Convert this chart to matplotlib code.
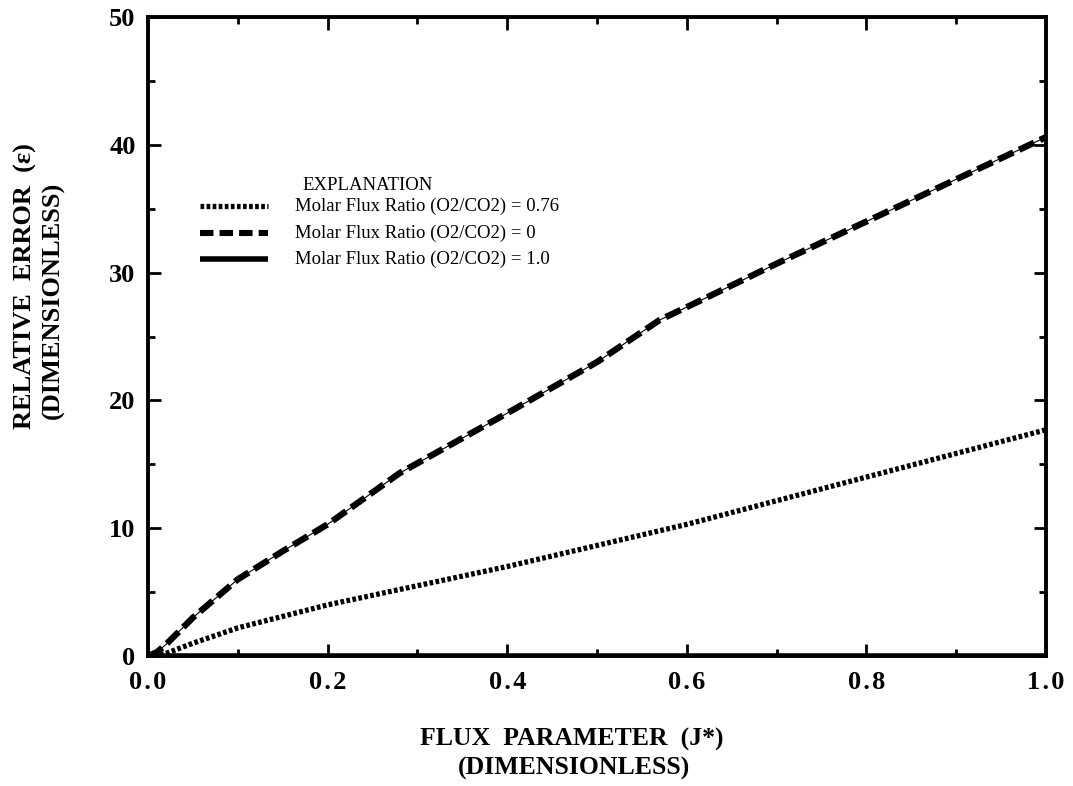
import matplotlib
matplotlib.use("Agg")
import matplotlib.pyplot as plt
from matplotlib.lines import Line2D
from matplotlib.ticker import MultipleLocator, FuncFormatter, FormatStrFormatter

# ---- data ----
x_dashed = [0.0, 0.01, 0.02, 0.05, 0.10, 0.15, 0.20, 0.28, 0.40, 0.50, 0.57, 0.60, 0.70, 0.80, 0.90, 1.00]
y_dashed = [0.0, 0.3, 0.9, 3.0, 6.0, 8.2, 10.3, 14.3, 19.0, 23.0, 26.3, 27.3, 30.7, 34.0, 37.3, 40.6]

x_dotted = [0.0, 0.02, 0.05, 0.10, 0.20, 0.40, 0.60, 0.80, 1.00]
y_dotted = [0.0, 0.2, 1.0, 2.2, 4.0, 7.0, 10.3, 14.0, 17.7]

x_solid = [0.0, 1.0]
y_solid = [0.0, 0.0]

labels = ["Molar Flux Ratio (O2/CO2) = 0.76",
          "Molar Flux Ratio (O2/CO2) = 0",
          "Molar Flux Ratio (O2/CO2) = 1.0"]

serif = ["Liberation Serif", "DejaVu Serif"]

fig = plt.figure(figsize=(10.73, 7.86), dpi=100)
ax = fig.add_axes([148/1073, 1-656/786, (1046-148)/1073, (656-17)/786])

dot_style = (0, (0.7, 0.45))
dash_style = (0, (2.6, 1.0))

ax.plot(x_solid, y_solid, color="black", lw=4.0, solid_capstyle="butt", zorder=3)
ax.plot(x_dotted, y_dotted, color="black", lw=3.8, linestyle=dot_style, dash_capstyle="butt", zorder=3)
ax.plot(x_dashed, y_dashed, color="black", lw=4.6, linestyle=dash_style, dash_capstyle="butt", zorder=3)
ax.plot(x_dashed, y_dashed, color="black", lw=0.8, zorder=3)

ax.set_xlim(0, 1.0)
ax.set_ylim(0, 50)
ax.xaxis.set_major_locator(MultipleLocator(0.2))
ax.xaxis.set_minor_locator(MultipleLocator(0.1))
ax.yaxis.set_major_locator(MultipleLocator(10))
ax.yaxis.set_minor_locator(MultipleLocator(5))
ax.xaxis.set_major_formatter(FuncFormatter(lambda v, p: "\u200a".join(f"{v:.1f}")))
ax.yaxis.set_major_formatter(FormatStrFormatter("%d"))

for s in ax.spines.values():
    s.set_linewidth(2.8)
ax.tick_params(which="both", direction="in", top=True, right=True, width=2.0)
ax.tick_params(which="major", length=9)
ax.tick_params(which="minor", length=5)
ax.tick_params(axis="x", which="major", pad=11)
ax.tick_params(axis="y", which="major", pad=9)
for lab in ax.get_xticklabels() + ax.get_yticklabels():
    lab.set_fontfamily(serif)
    lab.set_fontweight("bold")
    lab.set_fontsize(19)

fig.text(572/1073, 1-739/786, "FLUX  PARAMETER  (J*)", ha="center", va="center",
         family=serif, fontweight="bold", fontsize=18.5)
fig.text(574/1073, 1-768/786, "(DIMENSIONLESS)", ha="center", va="center",
         family=serif, fontweight="bold", fontsize=18.5)
fig.text(25/1073, 1-286/786, "RELATIVE  ERROR  (ε)", ha="center", va="center",
         rotation=90, family=serif, fontweight="bold", fontsize=19)
fig.text(53/1073, 1-300/786, "(DIMENSIONLESS)", ha="center", va="center",
         rotation=90, family=serif, fontweight="bold", fontsize=19)

# legend
fig.text(302/1073, 1-186/786, "EXPLANATION", ha="left", va="center", family=serif, fontsize=13.5)
leg_y = [206, 233, 259]
leg_styles = [dict(lw=3.8, linestyle=dot_style, dash_capstyle="butt"),
              dict(lw=4.4, linestyle=(0, (2.2, 1.0)), dash_capstyle="butt"),
              dict(lw=4.0, solid_capstyle="butt")]
for yy, lab, st in zip(leg_y, labels, leg_styles):
    yf = 1 - yy/786
    fig.add_artist(Line2D([200/1073, 268/1073], [yf, yf], color="black", **st))
    fig.text(295/1073, yf, lab, ha="left", va="center", family=serif, fontsize=13.5)

fig.savefig("out.png", dpi=100)
